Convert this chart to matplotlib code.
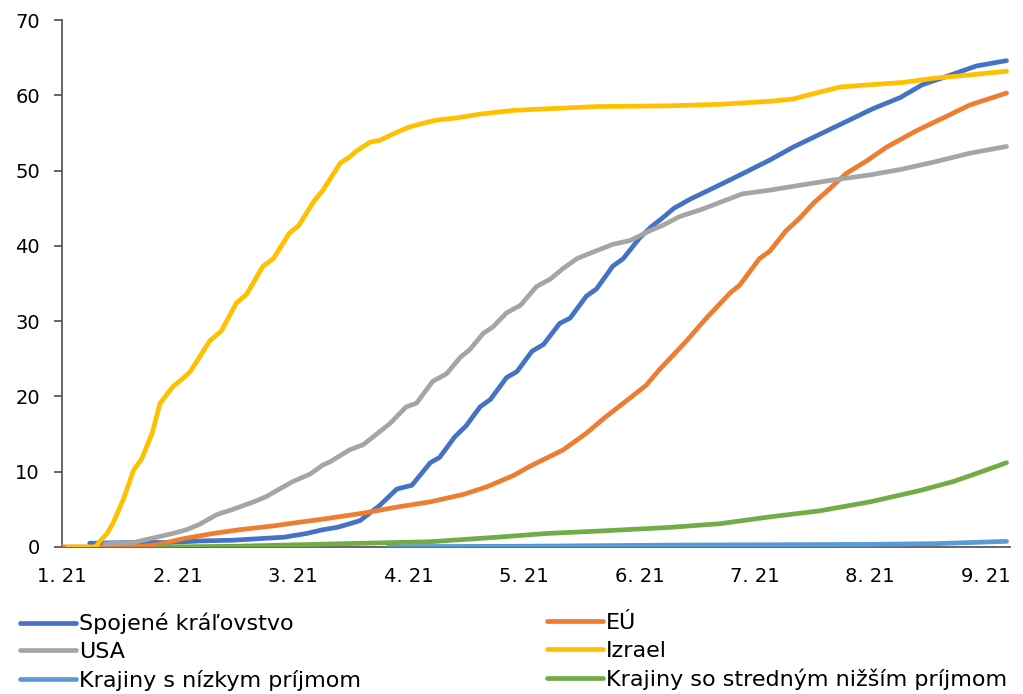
import matplotlib
matplotlib.use("Agg")
import matplotlib.pyplot as plt

# x positions are in months since 1 Jan 2021
month_labels = ["1. 21", "2. 21", "3. 21", "4. 21", "5. 21", "6. 21", "7. 21", "8. 21", "9. 21"]

uk_x = [0.24, 0.62, 0.91, 1.19, 1.48, 1.92, 2.12, 2.26, 2.38, 2.45, 2.58, 2.75, 2.90, 3.03, 3.19, 3.27,
        3.40, 3.50, 3.62, 3.71, 3.85, 3.94, 4.07, 4.17, 4.31, 4.40, 4.54, 4.63, 4.77, 4.86, 5.00, 5.10,
        5.20, 5.30, 5.44, 5.67, 5.87, 6.13, 6.33, 6.56, 6.79, 7.02, 7.26, 7.45, 7.66, 7.92, 8.18]
uk_y = [0.5, 0.6, 0.6, 0.8, 0.9, 1.3, 1.8, 2.3, 2.6, 2.9, 3.5, 5.5, 7.7, 8.2, 11.2, 11.9,
        14.6, 16.1, 18.6, 19.6, 22.5, 23.3, 26.0, 26.9, 29.7, 30.4, 33.3, 34.3, 37.3, 38.3, 41.0, 42.5,
        43.7, 45.0, 46.2, 47.9, 49.4, 51.4, 53.1, 54.8, 56.5, 58.2, 59.7, 61.4, 62.5, 63.9, 64.6]

eu_x = [0.0, 0.62, 0.82, 1.05, 1.31, 1.54, 1.83, 2.06, 2.26, 2.61, 2.90, 3.19, 3.48, 3.68, 3.91, 4.05,
        4.34, 4.54, 4.71, 4.92, 5.06, 5.17, 5.30, 5.41, 5.58, 5.79, 5.87, 6.04, 6.13, 6.27, 6.39, 6.51,
        6.65, 6.79, 6.97, 7.14, 7.40, 7.66, 7.86, 8.04, 8.18]
eu_y = [0.0, 0.0, 0.3, 1.1, 1.8, 2.3, 2.8, 3.3, 3.7, 4.5, 5.3, 6.0, 7.0, 8.0, 9.5, 10.7,
        12.9, 15.1, 17.3, 19.8, 21.5, 23.5, 25.6, 27.4, 30.4, 33.8, 34.8, 38.3, 39.3, 42.0, 43.7, 45.7,
        47.6, 49.6, 51.3, 53.1, 55.3, 57.2, 58.7, 59.6, 60.3]

usa_x = [0.37, 0.62, 0.82, 0.96, 1.08, 1.19, 1.34, 1.48, 1.66, 1.77, 1.86, 2.00, 2.15, 2.26, 2.32, 2.49,
         2.61, 2.84, 2.98, 3.07, 3.21, 3.33, 3.45, 3.53, 3.65, 3.73, 3.85, 3.97, 4.11, 4.23, 4.34, 4.46,
         4.57, 4.77, 4.92, 5.09, 5.20, 5.35, 5.55, 5.72, 5.89, 6.13, 6.41, 6.70, 6.99, 7.28, 7.57, 7.86, 8.18]
usa_y = [0.4, 0.6, 1.3, 1.8, 2.3, 3.0, 4.3, 5.0, 6.0, 6.7, 7.5, 8.7, 9.7, 10.9, 11.3, 12.9,
         13.6, 16.4, 18.6, 19.1, 22.0, 23.0, 25.2, 26.2, 28.4, 29.2, 31.1, 32.1, 34.6, 35.6, 37.0, 38.3,
         39.0, 40.2, 40.7, 42.0, 42.7, 43.9, 44.9, 45.9, 46.9, 47.4, 48.1, 48.8, 49.4, 50.2, 51.2, 52.3, 53.2]

isr_x = [0.05, 0.29, 0.33, 0.39, 0.44, 0.53, 0.62, 0.69, 0.78, 0.85, 0.96, 1.04, 1.11, 1.19, 1.28, 1.38,
         1.51, 1.60, 1.74, 1.83, 1.97, 2.05, 2.18, 2.26, 2.41, 2.49, 2.55, 2.67, 2.75, 2.90, 3.01, 3.13,
         3.24, 3.42, 3.62, 3.91, 4.20, 4.63, 5.26, 5.70, 6.13, 6.33, 6.53, 6.74, 7.00, 7.28, 7.57, 7.86, 8.18]
isr_y = [0.0, 0.0, 0.8, 1.8, 3.1, 6.3, 10.2, 11.7, 15.1, 19.1, 21.3, 22.3, 23.3, 25.2, 27.4, 28.7,
         32.4, 33.6, 37.3, 38.3, 41.7, 42.7, 45.9, 47.4, 51.0, 51.8, 52.6, 53.8, 54.0, 55.1, 55.8, 56.3,
         56.7, 57.0, 57.5, 58.0, 58.2, 58.5, 58.6, 58.8, 59.2, 59.5, 60.3, 61.1, 61.4, 61.7, 62.3, 62.7, 63.2]

low_x = [2.83, 4.00, 5.26, 7.00, 7.57, 8.18]
low_y = [0.05, 0.1, 0.25, 0.35, 0.45, 0.75]

lmid_x = [0.83, 1.50, 2.32, 3.19, 3.77, 4.20, 4.63, 5.26, 5.70, 6.13, 6.56, 7.00, 7.43, 7.72, 8.00, 8.18]
lmid_y = [0.0, 0.1, 0.4, 0.7, 1.3, 1.8, 2.1, 2.6, 3.1, 4.0, 4.8, 6.0, 7.5, 8.7, 10.2, 11.2]

series = [
    ("Spojené kráľovstvo", uk_x, uk_y, "#4472C4"),
    ("EÚ", eu_x, eu_y, "#ED7D31"),
    ("USA", usa_x, usa_y, "#A5A5A5"),
    ("Izrael", isr_x, isr_y, "#FFC000"),
    ("Krajiny s nízkym príjmom", low_x, low_y, "#5B9BD5"),
    ("Krajiny so stredným nižším príjmom", lmid_x, lmid_y, "#70AD47"),
]

plt.rcParams['font.family'] = ['DejaVu Sans']
fig = plt.figure(figsize=(10.23, 6.94), dpi=100)
ax = fig.add_axes([62 / 1023, 1 - 547 / 694, (1010 - 62) / 1023, (547 - 20) / 694])

handles = {}
for name, xs, ys, col in series:
    ln, = ax.plot(xs, ys, color=col, lw=3.4, solid_capstyle='round', solid_joinstyle='round',
                  zorder=3, label=name)
    handles[name] = ln

ax.set_xlim(0, 8.21)
ax.set_ylim(0, 70)
ax.set_yticks(range(0, 71, 10))
ax.set_xticks(range(len(month_labels)))
ax.set_xticklabels(month_labels)

for s in ["top", "right"]:
    ax.spines[s].set_visible(False)
for s in ["left", "bottom"]:
    ax.spines[s].set_color("#595959")
    ax.spines[s].set_linewidth(1.3)
    ax.spines[s].set_zorder(1)

ax.tick_params(axis='y', length=5.5, width=1.3, color="#595959", pad=10.5, labelsize=14,
               labelcolor="#000000")
ax.tick_params(axis='x', length=0, pad=14.5, labelsize=14, labelcolor="#000000")

left_names = ["Spojené kráľovstvo", "USA", "Krajiny s nízkym príjmom"]
right_names = ["EÚ", "Izrael", "Krajiny so stredným nižším príjmom"]
common = dict(frameon=False, fontsize=16, handlelength=2.5, handletextpad=0.15, labelspacing=0.35,
              borderpad=0, borderaxespad=0, loc="upper left")
leg1 = fig.legend([handles[n] for n in left_names], left_names,
                  bbox_to_anchor=(20 / 1023, 1 - 613 / 694), **common)
leg2 = fig.legend([handles[n] for n in right_names], right_names,
                  bbox_to_anchor=(547 / 1023, 1 - 613 / 694), **common)

fig.savefig("out.png", dpi=100)
